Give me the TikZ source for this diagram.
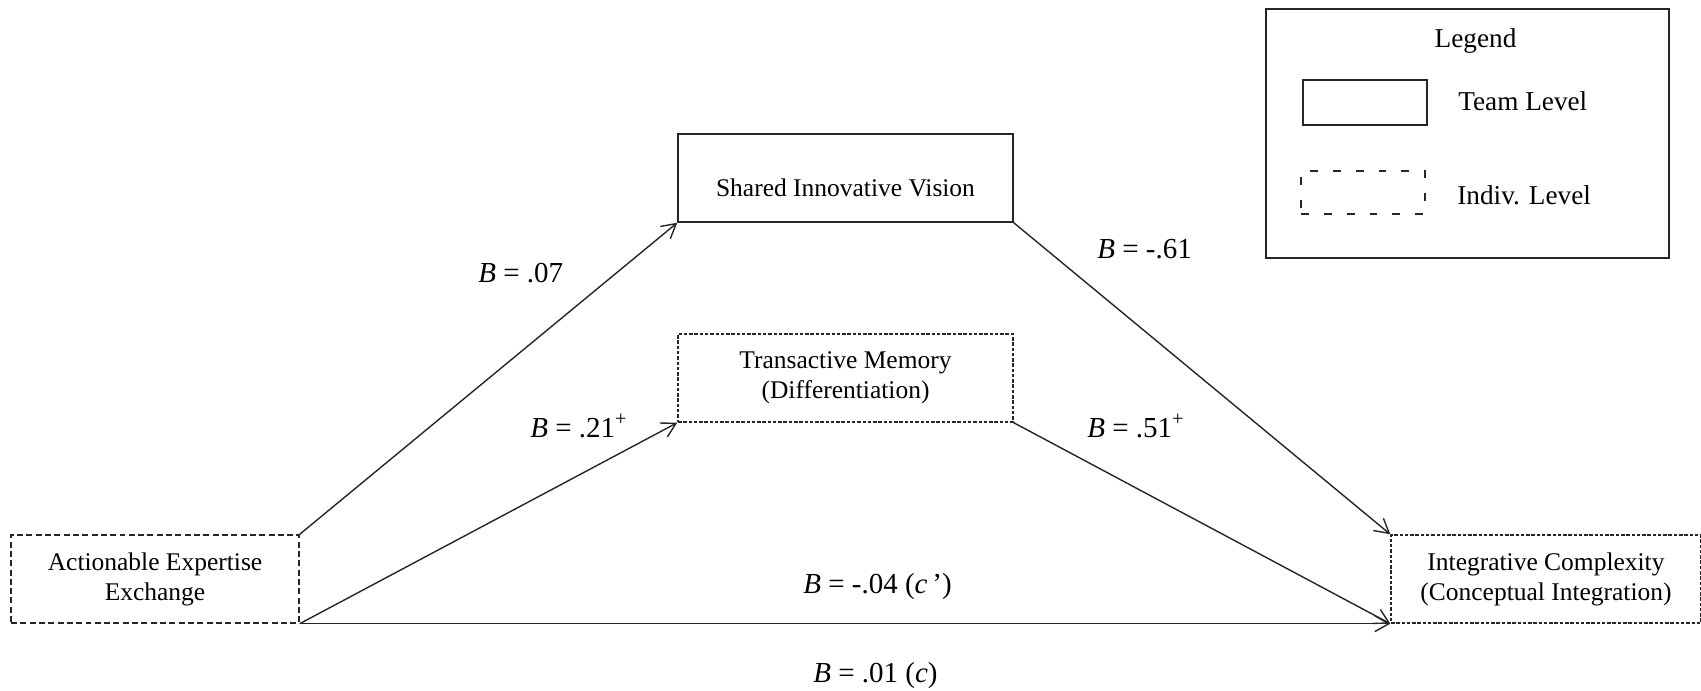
\documentclass[tikz,border=0pt]{standalone}
\usepackage{fontspec}
\setmainfont{Liberation Serif}
\usepackage{tikz}
\usetikzlibrary{arrows.meta,positioning}
\newcommand{\BoxFont}{\fontsize{14.5}{17}\selectfont}
\newcommand{\CoefFont}{\fontsize{16.5}{19}\selectfont}
\newcommand{\KeyFont}{\fontsize{15.5}{18}\selectfont}
\tikzset{
  teamlevel/.style={draw=black!85,line width=0.8pt,inner sep=0pt,align=center,
    minimum height=17.6mm,font=\BoxFont},
  indivlevel/.style={teamlevel,dash pattern=on 2pt off 1pt},
  effect/.style={draw=black!85,line width=0.8pt,-{Straight Barb[length=8pt,width=9pt]}},
  coef/.style={anchor=base west,inner sep=0pt,font=\CoefFont},
  keytext/.style={inner sep=0pt,font=\KeyFont}
}

\begin{document}
\begin{tikzpicture}[x=0.2mm,y=-0.2mm]
  \useasboundingbox (0,0) rectangle (1701,691);

  % Constructs
  \node[indivlevel,dash pattern=on 3.4pt off 1.9pt,minimum width=57.6mm] (aee) at (155,579)
    {Actionable Expertise\\Exchange};
  \node[teamlevel,minimum width=67mm,text height=21pt] (siv) at (845.5,178)
    {Shared Innovative Vision};
  \node[indivlevel,minimum width=67mm] (tm) at (845.5,378)
    {Transactive Memory\\(Differentiation)};
  \node[indivlevel,minimum width=62mm] (ic) at (1546,579)
    {Integrative Complexity\\(Conceptual Integration)};

  % Paths
  \draw[effect] (aee.north east) -- (siv.south west);
  \draw[effect] (aee.south east) -- (tm.south west);
  \draw[effect] (siv.south east) -- (ic.north west);
  \draw[effect] (tm.south east) -- (ic.south west);
  \draw[effect] (aee.south east) -- (ic.south west);

  % Coefficients
  \node[coef] (bsiv) at (478,282) {\textit{B} = .07};
  \node[coef] (btm) at (530,437) {\textit{B} = .21\textsuperscript{+}};
  \node[coef] (bsivic) at (1097,259) {\textit{B} = -.61};
  \node[coef] (btmic) at (1087,437) {\textit{B} = .51\textsuperscript{+}};
  \node[coef] (bdirect) at (803,593) {\textit{B} = -.04 (\textit{c}\,’)};
  \node[coef] (btotal) at (813,682) {\textit{B} = .01 (\textit{c})};

  % Legend
  \node[draw=black!85,line width=0.8pt,minimum width=80.6mm,minimum height=49.8mm] (legend) at (1467.5,133.5) {};
  \node[keytext,anchor=base] (legendtitle) at (1475.5,48) {Legend};
  \node[draw=black!85,line width=0.8pt,minimum width=24.8mm,minimum height=9mm] (teamkey) at (1365,102.5) {};
  \node[keytext,anchor=base west] (teamlabel) at (1458,111) {Team Level};
  \node[draw=black!85,line width=0.8pt,dash pattern=on 4.5pt off 8.5pt,minimum width=24.8mm,minimum height=8.6mm] (indivkey) at (1363,192.5) {};
  \node[keytext,anchor=base west] (indivlabel) at (1457,205) {Indiv. Level};
\end{tikzpicture}
\end{document}
